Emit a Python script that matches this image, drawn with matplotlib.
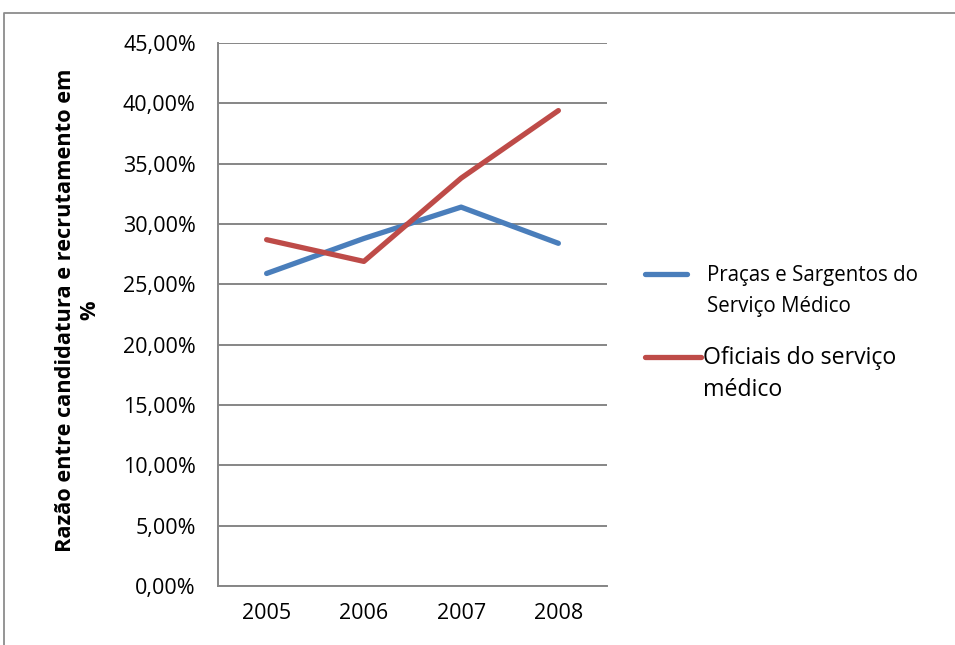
import matplotlib
matplotlib.use("Agg")
import matplotlib.pyplot as plt
from matplotlib.lines import Line2D
from matplotlib.ticker import FuncFormatter, MultipleLocator

plt.rcParams['font.family'] = ['Open Sans', 'DejaVu Sans']

years = ["2005", "2006", "2007", "2008"]
pracas = [25.9, 28.8, 31.4, 28.4]
oficiais = [28.7, 26.9, 33.8, 39.4]
series_names = ["Praças e Sargentos do\nServiço Médico", "Oficiais do serviço\nmédico"]
blue = "#4A7EBB"
red = "#BE4B48"
grid_c = "#868686"

fig = plt.figure(figsize=(9.55, 6.45), dpi=100)
W, H = 955, 645
ax = fig.add_axes([218 / W, 1 - 586 / H, (607 - 218) / W, (586 - 43) / H])

x = range(len(years))
ax.plot(x, pracas, color=blue, lw=3.8, solid_capstyle="round", solid_joinstyle="round", zorder=3)
ax.plot(x, oficiais, color=red, lw=3.8, solid_capstyle="round", solid_joinstyle="round", zorder=3)

ax.set_xlim(-0.5, len(years) - 0.5)
ax.set_ylim(0, 45)
ax.set_xticks(list(x))
ax.set_xticklabels(years)
ax.yaxis.set_major_locator(MultipleLocator(5))
ax.yaxis.set_major_formatter(FuncFormatter(lambda v, p: f"{v:.2f}%".replace(".", ",")))
ax.tick_params(axis="both", length=0, labelsize=15.5, colors="black")
ax.tick_params(axis="y", pad=16)
ax.tick_params(axis="x", pad=12)
ax.grid(axis="y", color=grid_c, lw=1.4)
ax.set_axisbelow(True)
for s in ["top", "right"]:
    ax.spines[s].set_visible(False)
for s in ["left", "bottom"]:
    ax.spines[s].set_color(grid_c)
    ax.spines[s].set_linewidth(1.4)

fig.text(78 / W, 1 - 310 / H, "Razão entre candidatura e recrutamento em\n%",
         rotation=90, ha="center", va="center", fontsize=15.7, fontweight="bold",
         multialignment="center", linespacing=1.2)

# legend entries
fig.add_artist(Line2D([645 / W, 687 / W], [1 - 274 / H, 1 - 274 / H], color=blue, lw=3.8,
                      solid_capstyle="round", transform=fig.transFigure))
fig.text(707 / W, 1 - 291 / H, series_names[0], ha="left", va="center", fontsize=14.8, linespacing=1.6)
fig.add_artist(Line2D([645 / W, 701 / W], [1 - 357 / H, 1 - 357 / H], color=red, lw=3.8,
                      solid_capstyle="round", transform=fig.transFigure))
fig.text(703 / W, 1 - 374 / H, series_names[1], ha="left", va="center", fontsize=16.7, linespacing=1.45)

# chart frame
fig.add_artist(Line2D([4 / W, 4 / W, 1], [0, 1 - 13 / H, 1 - 13 / H], color="#8C8C8C", lw=1.3,
                      transform=fig.transFigure))

fig.savefig("out.png", dpi=100)
